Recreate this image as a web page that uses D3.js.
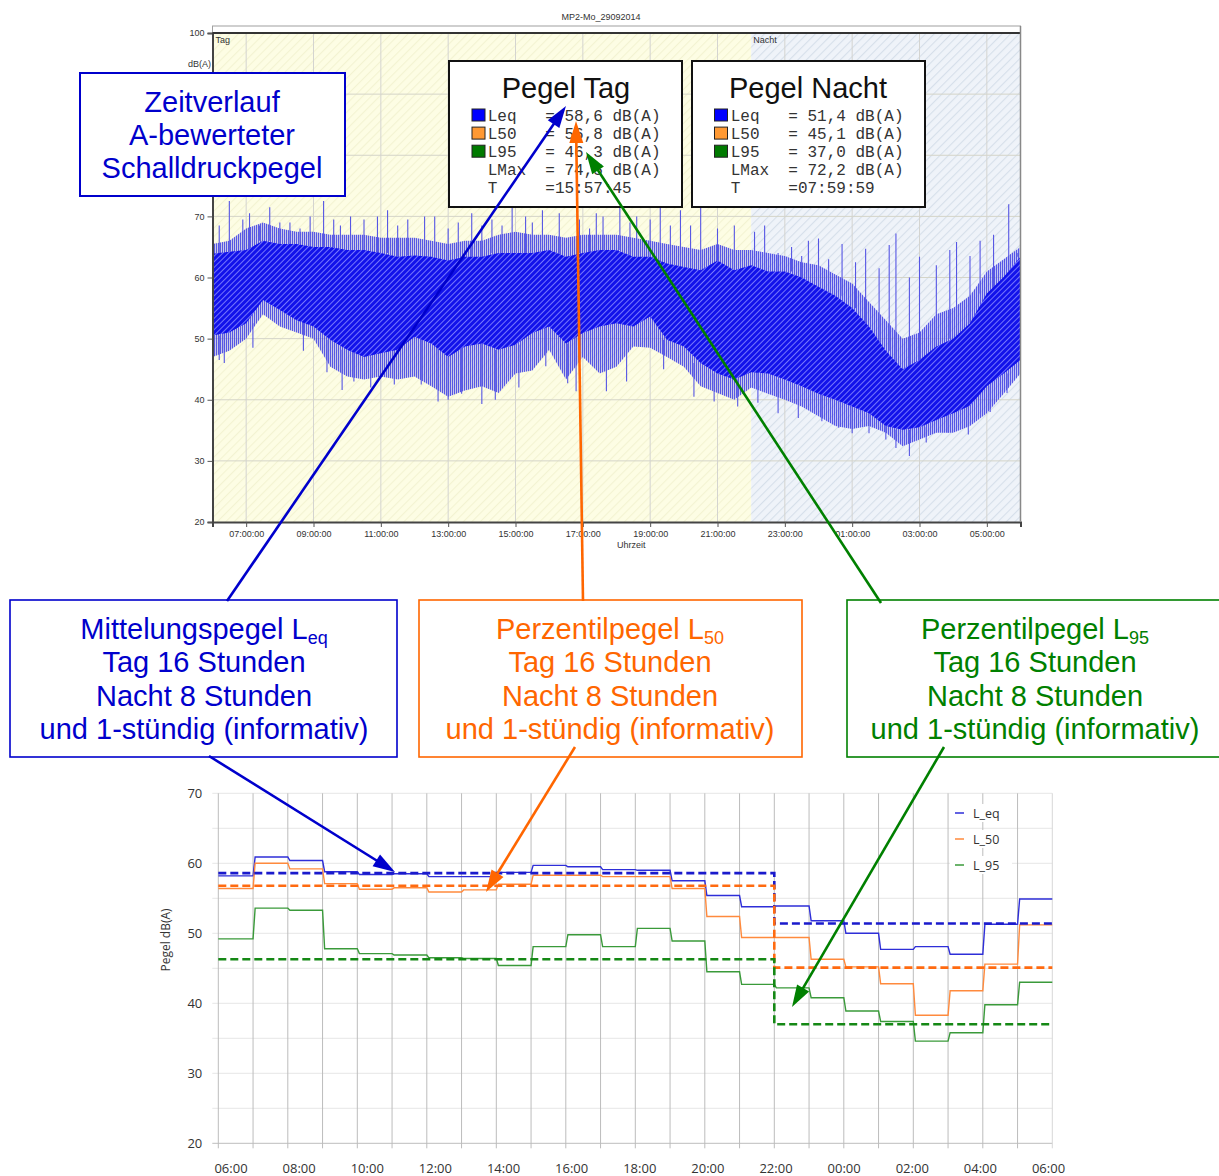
<!DOCTYPE html>
<html><head><meta charset="utf-8">
<script src="https://cdn.jsdelivr.net/npm/d3@7"></script>
<style>body{margin:0;background:#fff}</style>
</head><body>
<svg id="c" width="1219" height="1176"></svg>
<script>
// ---------------- DATA ----------------
// Top chart: envelope of the A-weighted level trace, every half hour from 06:00 to 06:00 (hours 6..30)
const waveCoreHigh = [63.9,64.2,64.5,66.0,65.5,65.5,65.0,65.0,64.5,64.5,64.0,63.4,63.6,63.4,62.8,63.4,63.4,64.0,64.0,64.0,64.5,63.4,64.0,64.5,64.5,63.4,63.4,62.3,61.7,61.2,62.8,61.2,62.0,61.0,61.0,60.0,58.5,57.0,55.0,52.0,48.0,45.0,46.5,48.7,50.0,52.5,57.4,60.1,63.4];
const waveCoreLow  = [50.5,51.0,52.5,56.3,54.7,53.0,52.0,49.8,48.2,47.0,47.6,48.2,50.3,49.2,47.0,48.7,49.2,48.2,49.0,50.9,52.0,49.2,50.9,52.0,52.5,52.0,53.6,49.8,48.7,46.0,44.3,43.3,44.5,44.3,43.3,42.2,41.0,40.0,38.9,37.8,35.7,35.1,35.5,36.7,37.8,39.0,42.2,44.3,46.5];
const waveOuterHigh= [65.5,66.0,68.0,69.0,68.0,67.5,67.5,67.0,67.0,67.0,66.5,66.5,66.5,66.0,65.5,66.0,66.0,67.0,67.5,67.0,67.0,66.5,67.0,67.0,67.0,66.5,66.0,65.5,65.0,64.5,65.5,64.5,64.5,64.0,63.5,62.5,62.0,60.5,59.0,56.0,53.0,50.0,51.0,54.0,55.0,57.0,61.0,63.0,65.0];
const waveOuterLow = [47.0,48.0,50.0,54.0,52.0,51.0,50.0,45.4,43.8,43.3,43.8,43.3,43.8,42.2,40.5,41.5,42.2,41.1,44.3,44.8,48.2,43.3,47.0,44.3,45.4,48.7,48.5,47.0,45.4,42.2,41.1,40.0,42.0,41.0,40.0,38.9,37.3,35.7,35.2,35.7,34.6,32.4,33.5,34.6,34.6,35.7,37.8,41.0,44.3];
// isolated peaks (hour of day, dB)
const peakUpHours  = [6.2,6.5,6.9,7.1,7.4,7.7,8.0,8.3,8.6,8.9,9.3,9.6,9.8,10.1,10.5,10.9,11.2,11.5,11.8,12.3,12.6,13.0,13.3,13.7,14.0,14.3,14.6,14.9,15.3,15.5,15.8,16.3,16.9,17.2,17.4,17.6,18.1,18.4,18.6,19.0,19.3,19.6,19.9,20.2,20.5,21.0,21.5,22.1,22.4,22.8,23.2,23.5,23.7,24.0,24.3,24.7,25.1,25.4,25.8,26.1,26.3,26.7,27.0,27.5,27.9,28.1,28.5,28.8,29.2,29.65,29.9];
const peakUpValues = [68.5,72.5,69.5,70.5,68.5,71.5,69.0,69.0,68.0,70.0,72.5,69.5,68.5,70.0,69.5,70.0,71.0,68.5,69.5,70.0,70.0,68.0,69.0,70.5,68.5,69.5,68.5,71.5,70.0,69.0,71.0,70.5,69.5,68.0,70.5,70.0,71.5,69.0,70.0,69.5,71.5,68.5,71.0,68.5,72.0,68.0,68.5,67.5,68.5,64.0,65.0,63.5,66.0,66.4,63.0,65.5,62.5,64.7,61.5,65.3,67.2,60.0,63.4,62.0,64.5,65.8,63.5,66.0,67.0,72.0,64.0];
const peakDownHours  = [6.2,6.35,7.2,8.7,9.4,9.85,10.2,10.7,11.4,12.2,12.7,13.0,13.4,14.0,14.4,15.1,15.9,16.55,16.8,17.7,18.3,19.4,20.3,20.9,21.6,22.2,22.8,23.4,24.1,24.6,25.0,25.5,26.0,26.3,26.7,27.2,27.85,28.45,29.1,29.6];
const peakDownValues = [46.5,46.0,48.5,48.0,44.5,41.6,43.0,42.0,42.5,42.5,39.7,40.0,41.0,39.3,40.0,42.0,45.5,42.7,41.4,41.4,43.0,45.0,40.5,39.7,38.9,39.5,37.8,37.0,36.5,35.4,34.5,34.5,33.5,32.1,30.8,33.0,34.6,34.3,38.0,41.1];
const topYTickValues = [20,30,40,50,60,70,80,90,100];
const topYTickShown  = [20,30,40,50,60,70,100];   // 80 and 90 are hidden under the annotation box
const topXTickHours = [7,9,11,13,15,17,19,21,23,25,27,29];
const topXTickLabels = ["07:00:00","09:00:00","11:00:00","13:00:00","15:00:00","17:00:00","19:00:00","21:00:00","23:00:00","01:00:00","03:00:00","05:00:00"];

// Summary boxes
const levelNames = ["Leq","L50","L95","LMax","T"];
const tagValues   = ["58,6 dB(A)","56,8 dB(A)","46,3 dB(A)","74,5 dB(A)","15:57:45"];
const nachtValues = ["51,4 dB(A)","45,1 dB(A)","37,0 dB(A)","72,2 dB(A)","07:59:59"];

// Bottom chart: hourly levels 06:00..05:00
const leqHourly = [58.2,60.9,60.4,58.8,58.4,58.5,58.1,58.1,58.7,59.7,59.5,59.1,59.0,57.5,55.4,53.8,53.9,51.8,50.0,47.7,48.1,47.0,51.3,54.9];
const l50Hourly = [56.4,60.0,59.2,57.1,56.3,56.5,55.9,56.2,57.0,58.3,58.3,58.1,58.1,56.4,52.4,49.4,49.4,46.3,45.2,42.8,38.3,41.8,45.6,51.2];
const l95Hourly = [49.2,53.6,53.3,47.8,47.1,46.9,46.5,46.4,45.4,48.1,49.8,48.1,50.7,48.9,44.5,42.7,42.2,40.8,38.9,37.4,34.6,35.8,39.8,43.0];
const dayLevels   = [58.6,56.8,46.3];   // Leq, L50, L95 Tag
const nightLevels = [51.4,45.1,37.0];   // Leq, L50, L95 Nacht
const seriesNames = ["L_eq","L_50","L_95"];
const bottomYTicks = [20,30,40,50,60,70];
const bottomXLabels = ["06:00","08:00","10:00","12:00","14:00","16:00","18:00","20:00","22:00","00:00","02:00","04:00","06:00"];

// ---------------- DRAW ----------------
const svg = d3.select("#c");
const defs = svg.append("defs");
const SANS = "Arial, 'Liberation Sans', sans-serif";
const MONO = "'Courier New', 'Liberation Mono', monospace";

function hatch(id, bg, line, size, w){
  const p = defs.append("pattern").attr("id",id).attr("patternUnits","userSpaceOnUse")
    .attr("width",size).attr("height",size).attr("patternTransform","rotate(45)");
  p.append("rect").attr("width",size).attr("height",size).attr("fill",bg);
  p.append("line").attr("x1",0.5).attr("y1",0).attr("x2",0.5).attr("y2",size).attr("stroke",line).attr("stroke-width",w);
}
hatch("tagP","#fdfde4","#f3f3d2",6,1.2);
hatch("nachtP","#eff3f9","#d6dfea",6,1.2);
hatch("coreP","#1212ea","#8080ff",4,0.9);
{
  const p = defs.append("pattern").attr("id","outerP").attr("patternUnits","userSpaceOnUse").attr("width",2).attr("height",6);
  p.append("rect").attr("width",2).attr("height",6).attr("fill","rgba(140,140,240,0.45)");
  p.append("line").attr("x1",0.5).attr("y1",0).attr("x2",0.5).attr("y2",6).attr("stroke","rgba(50,50,225,0.75)").attr("stroke-width",1);
}

// ---- Top chart ----
const xT = d3.scaleLinear().domain([6,30]).range([212.5,1020.5]);
const yT = d3.scaleLinear().domain([20,100]).range([522,33]);
const topG = svg.append("g");
topG.append("rect").attr("x",xT(6)).attr("y",26).attr("width",xT(30)-xT(6)).attr("height",yT(20)-26)
  .attr("fill","#fff").attr("stroke","#a0a0a0").attr("stroke-width",1);
topG.append("rect").attr("x",xT(6)).attr("y",yT(100)).attr("width",xT(22)-xT(6)).attr("height",yT(20)-yT(100)).attr("fill","url(#tagP)");
topG.append("rect").attr("x",xT(22)).attr("y",yT(100)).attr("width",xT(30)-xT(22)).attr("height",yT(20)-yT(100)).attr("fill","url(#nachtP)");
// grid
topG.selectAll(".hg").data([30,40,50,60,70,80,90]).join("line")
  .attr("x1",xT(6)).attr("x2",xT(30)).attr("y1",d=>yT(d)).attr("y2",d=>yT(d)).attr("stroke","#d4d4c8").attr("stroke-width",1);
topG.selectAll(".vg").data(topXTickHours).join("line")
  .attr("x1",d=>xT(d)).attr("x2",d=>xT(d)).attr("y1",yT(100)).attr("y2",yT(20)).attr("stroke","#d4d4d0").attr("stroke-width",1);
topG.append("text").attr("x",xT(6)+3).attr("y",43).attr("font-family",SANS).attr("font-size",9).attr("fill","#333").text("Tag");
topG.append("text").attr("x",xT(22)+2).attr("y",43).attr("font-family",SANS).attr("font-size",9).attr("fill","#333").text("Nacht");

// waveform
const waveHours = waveCoreHigh.map((_,i)=>6+i*0.5);
const wave = waveHours.map((t,i)=>({t, cl:waveCoreLow[i], ch:waveCoreHigh[i], ol:waveOuterLow[i], oh:waveOuterHigh[i]}));
defs.append("clipPath").attr("id","plotClip").append("rect").attr("x",xT(6)).attr("y",yT(100)).attr("width",xT(30)-xT(6)).attr("height",yT(20)-yT(100));
const wg = topG.append("g").attr("clip-path","url(#plotClip)");
wg.append("path").datum(wave).attr("fill","url(#outerP)")
  .attr("d", d3.area().x(d=>xT(d.t)).y0(d=>yT(d.ol)).y1(d=>yT(d.oh)));
const nearest = t => Math.max(0, Math.min(48, Math.round((t-6)*2)));
wg.selectAll(".pu").data(peakUpHours).join("line")
  .attr("x1",d=>xT(d)).attr("x2",d=>xT(d)).attr("y1",d=>yT(waveCoreHigh[nearest(d)]))
  .attr("y2",(d,i)=>yT(peakUpValues[i])).attr("stroke","#5656e4").attr("stroke-width",1.1);
wg.selectAll(".pd").data(peakDownHours).join("line")
  .attr("x1",d=>xT(d)).attr("x2",d=>xT(d)).attr("y1",d=>yT(waveCoreLow[nearest(d)]))
  .attr("y2",(d,i)=>yT(peakDownValues[i])).attr("stroke","#5656e4").attr("stroke-width",1.1);
wg.append("path").datum(wave).attr("fill","url(#coreP)")
  .attr("d", d3.area().x(d=>xT(d.t)).y0(d=>yT(d.cl)).y1(d=>yT(d.ch)));

// axes
const yAxT = topG.append("g").attr("transform",`translate(${xT(6)},0)`)
  .call(d3.axisLeft(yT).tickValues(topYTickValues).tickFormat(d=>topYTickShown.includes(d)?d:"").tickSize(5).tickPadding(3));
const xAxT = topG.append("g").attr("transform",`translate(0,${yT(20)})`)
  .call(d3.axisBottom(xT).tickValues(topXTickHours).tickFormat((d,i)=>topXTickLabels[i]).tickSize(5).tickPadding(4));
[yAxT,xAxT].forEach(a=>{
  a.select(".domain").attr("stroke","#444").attr("stroke-width",2);
  a.selectAll(".tick line").attr("stroke","#555");
  a.selectAll("text").attr("font-family",SANS).attr("font-size",9).attr("fill","#333");
});
yAxT.selectAll(".tick").filter(d=>!topYTickShown.includes(d)).select("text").remove();
topG.append("line").attr("x1",xT(6)).attr("x2",xT(30)).attr("y1",yT(100)).attr("y2",yT(100)).attr("stroke","#333").attr("stroke-width",2);
topG.append("line").attr("x1",xT(30)).attr("x2",xT(30)).attr("y1",26).attr("y2",yT(20)).attr("stroke","#888").attr("stroke-width",1.5);
topG.append("text").attr("x",211).attr("y",67).attr("text-anchor","end").attr("font-family",SANS).attr("font-size",9).attr("fill","#333").text("dB(A)");
topG.append("text").attr("x",617).attr("y",548).attr("font-family",SANS).attr("font-size",9).attr("fill","#333").text("Uhrzeit");
topG.append("text").attr("x",601).attr("y",20).attr("text-anchor","middle").attr("font-family",SANS).attr("font-size",9).attr("fill","#333").text("MP2-Mo_29092014");

// ---- Annotation box: Zeitverlauf ----
const ann = svg.append("g");
ann.append("rect").attr("x",80).attr("y",73).attr("width",265).attr("height",123).attr("fill","#fff").attr("stroke","#0000cc").attr("stroke-width",2);
["Zeitverlauf","A-bewerteter","Schalldruckpegel"].forEach((t,i)=>
  ann.append("text").attr("x",212).attr("y",112+i*33).attr("text-anchor","middle").attr("font-family",SANS).attr("font-size",29).attr("fill","#0000cc").text(t));

// ---- Summary boxes ----
const sqColors = ["#0000ff","#ff9933","#007a00"];
function summary(x0, w, title, values, textX, sqX, titleX){
  const g = svg.append("g");
  g.append("rect").attr("x",x0).attr("y",61).attr("width",w).attr("height",146).attr("fill","#fff").attr("stroke","#111").attr("stroke-width",2);
  g.append("text").attr("x",titleX).attr("y",98).attr("text-anchor","middle").attr("font-family",SANS).attr("font-size",29).attr("fill","#111").text(title);
  levelNames.forEach((n,i)=>{
    const by = 121 + i*18.1;
    if(i<3) g.append("rect").attr("x",sqX).attr("y",by-12).attr("width",13).attr("height",12).attr("fill",sqColors[i]).attr("stroke","#222").attr("stroke-width",1);
    const label = (n + "      ").slice(0,6) + (i<4 ? "= " : "=") + values[i];
    g.append("text").attr("x",textX).attr("y",by).attr("font-family",MONO).attr("font-size",16).attr("fill","#333")
      .style("white-space","pre").attr("xml:space","preserve").text(label);
  });
}
summary(449,233,"Pegel Tag",tagValues,487.7,472,566);
summary(692,233,"Pegel Nacht",nachtValues,730.7,714.5,808);

// ---- Bottom chart ----
const xB = d3.scaleLinear().domain([0,24]).range([218.3,1052.3]);
const yB = d3.scaleLinear().domain([20,70]).range([1143.3,793.3]);
const bot = svg.append("g");
bot.selectAll(".bh").data(d3.range(20,71,5)).join("line")
  .attr("x1",xB(0)-6).attr("x2",xB(24)).attr("y1",d=>yB(d)).attr("y2",d=>yB(d))
  .attr("stroke",d=>d===20?"#bdbdbd":"#e6e6e6").attr("stroke-width",1);
bot.selectAll(".bv").data(d3.range(0,25)).join("line")
  .attr("x1",d=>xB(d)).attr("x2",d=>xB(d)).attr("y1",yB(70)).attr("y2",yB(20)+5)
  .attr("stroke",d=>d===24?"#d8d8d8":"#bcbcbc").attr("stroke-width",1);
const yAxB = bot.append("g").attr("transform",`translate(${xB(0)},0)`)
  .call(d3.axisLeft(yB).tickValues(bottomYTicks).tickSize(0).tickPadding(16));
const xLbl = d3.scalePoint().domain(d3.range(bottomXLabels.length)).range([230.5,1048]);
const xAxB = bot.append("g").attr("transform",`translate(0,${yB(20)})`)
  .call(d3.axisBottom(xLbl).tickFormat(i=>bottomXLabels[i]).tickSize(0).tickPadding(20));
[yAxB,xAxB].forEach(a=>{
  a.select(".domain").remove();
  a.selectAll("text").attr("font-family","'Open Sans', sans-serif").attr("font-size",13).attr("fill","#333");
});
bot.append("text").attr("transform","translate(170,940) rotate(-90)").attr("text-anchor","middle")
  .attr("font-family","'Open Sans', sans-serif").attr("font-size",12).attr("fill","#333").text("Pegel dB(A)");

// solid hourly step lines
const solidColors = ["#2e2ed8","#ff8a3d","#3a9a3a"];
const dashColors  = ["#1a1acc","#ff6a10","#158815"];
const hourlySeries = [leqHourly,l50Hourly,l95Hourly];
const lineGen = d3.line().x(d=>xB(d[0])).y(d=>yB(d[1]));
hourlySeries.forEach((s,k)=>{
  const pts = [];
  s.forEach((v,i)=>{ pts.push([i===0?0:i+0.06, v]); pts.push([i+1, v]); });
  bot.append("path").datum(pts).attr("fill","none").attr("stroke",solidColors[k]).attr("stroke-width",1.4).attr("d",lineGen);
});
// dashed Tag/Nacht levels
dayLevels.forEach((dv,k)=>{
  const pts = [[0,dv],[16,dv],[16,nightLevels[k]],[24,nightLevels[k]]];
  bot.append("path").datum(pts).attr("fill","none").attr("stroke",dashColors[k]).attr("stroke-width",2.6)
    .attr("stroke-dasharray","8,4").attr("d",lineGen);
});
// legend
seriesNames.forEach((n,k)=>{
  const y = 813 + k*26;
  bot.append("rect").attr("x",950).attr("y",y-9).attr("width",62).attr("height",18).attr("fill","#fff");
  bot.append("line").attr("x1",955).attr("x2",964).attr("y1",y).attr("y2",y).attr("stroke",solidColors[k]).attr("stroke-width",1.5);
  bot.append("text").attr("x",973).attr("y",y+4.5).attr("font-family","'Open Sans', sans-serif").attr("font-size",12.5).attr("fill","#333").text(n);
});

// ---- Bottom annotation boxes ----
function infoBox(x, w, color, head, sub, cx){
  const g = svg.append("g");
  g.append("rect").attr("x",x).attr("y",600).attr("width",w).attr("height",157).attr("fill","#fff").attr("stroke",color).attr("stroke-width",1.6);
  const t = g.append("text").attr("x",cx).attr("y",639).attr("text-anchor","middle").attr("font-family",SANS).attr("font-size",29).attr("fill",color);
  t.append("tspan").text(head);
  t.append("tspan").attr("font-size",18).attr("dy",5).text(sub);
  ["Tag 16 Stunden","Nacht 8 Stunden","und 1-stündig (informativ)"].forEach((s,i)=>
    g.append("text").attr("x",cx).attr("y",672+i*33.5).attr("text-anchor","middle").attr("font-family",SANS).attr("font-size",29).attr("fill",color).text(s));
}
infoBox(10,387,"#0000cc","Mittelungspegel L","eq",204);
infoBox(419,383,"#ff6600","Perzentilpegel L","50",610);
infoBox(847,380,"#008000","Perzentilpegel L","95",1035);

// ---- Arrows ----
function arrow([x1,y1],[x2,y2],color){
  const dx=x2-x1, dy=y2-y1, L=Math.hypot(dx,dy), ux=dx/L, uy=dy/L, hl=22, hw=7;
  const bx=x2-ux*hl, by=y2-uy*hl;
  svg.append("line").attr("x1",x1).attr("y1",y1).attr("x2",x2-ux*hl*0.6).attr("y2",y2-uy*hl*0.6).attr("stroke",color).attr("stroke-width",2.6);
  svg.append("path").attr("d",`M${x2},${y2}L${bx-uy*hw},${by+ux*hw}L${bx+uy*hw},${by-ux*hw}Z`).attr("fill",color);
}
arrow([227,601],[566,106],"#0000cc");
arrow([583,601],[576,121],"#ff6600");
arrow([881,603],[586,152],"#008000");
arrow([209,756],[395,872],"#0000cc");
arrow([575,747],[486,892],"#ff6600");
arrow([944,747],[792,1007],"#008000");
</script>
</body></html>
